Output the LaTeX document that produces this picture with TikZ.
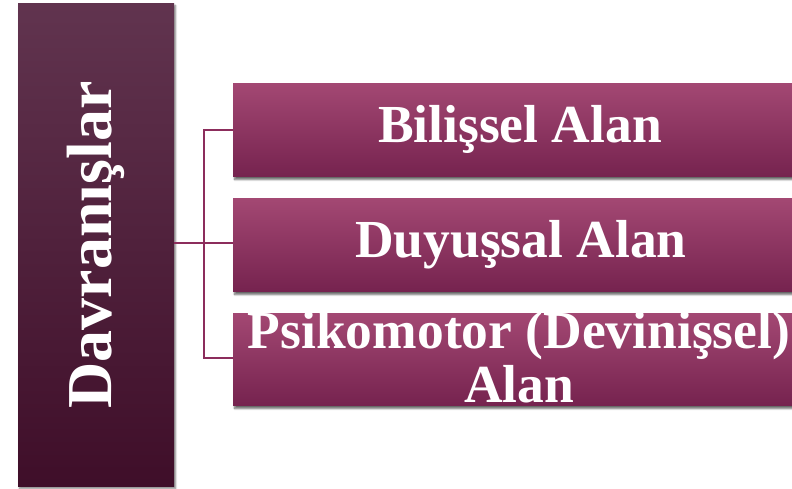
\documentclass[tikz,border=0pt]{standalone}
\usepackage{fontspec}
\setmainfont{Liberation Serif}
\usetikzlibrary{shadows.blur}
\definecolor{leftTop}{HTML}{61344F}
\definecolor{leftBot}{HTML}{3F0E29}
\definecolor{boxTop}{HTML}{A34873}
\definecolor{boxBot}{HTML}{76234F}
\definecolor{lineCol}{HTML}{8C2D5C}
\tikzset{
  leftbox/.style={top color=leftTop, bottom color=leftBot, draw=none,
    blur shadow={shadow xshift=1.5pt, shadow yshift=-2.5pt, shadow blur steps=6, shadow opacity=50}},
  areabox/.style={top color=boxTop, bottom color=boxBot, draw=none,
    blur shadow={shadow xshift=1.5pt, shadow yshift=-3.5pt, shadow blur steps=6, shadow opacity=60}},
  lbl/.style={text=white, font=\fontsize{53.5}{54}\selectfont\bfseries, align=center},
  conn/.style={draw=lineCol, line width=2pt}
}
\begin{document}
\begin{tikzpicture}[x=1pt,y=-1pt]
\useasboundingbox (0,0) rectangle (792,488);
\fill[leftbox] (18,3) rectangle (174,486);
\node[text=white, font=\fontsize{64}{66}\selectfont\bfseries, rotate=90] (dav) at (96,245) {Davranışlar};
\coordinate (lb) at (174,243);
\fill[areabox] (233,83) rectangle (810,176);
\fill[areabox] (233,198) rectangle (810,291);
\fill[areabox] (233,313) rectangle (810,405);
\node[lbl] (b1) at (520,129.5) {Bilişsel Alan};
\node[lbl] (b2) at (521,244.5) {Duyuşsal Alan};
\node[lbl] (b3) at (519,357) {Psikomotor (Devinişsel)\\Alan};
\coordinate (e1) at (233,130);
\coordinate (e2) at (233,243);
\coordinate (e3) at (233,358);
\coordinate (j) at (204,243);
\draw[conn] (lb) -- (j);
\draw[conn] (e1) -| (j) |- (e3);
\draw[conn] (j) -- (e2);
\end{tikzpicture}
\end{document}
